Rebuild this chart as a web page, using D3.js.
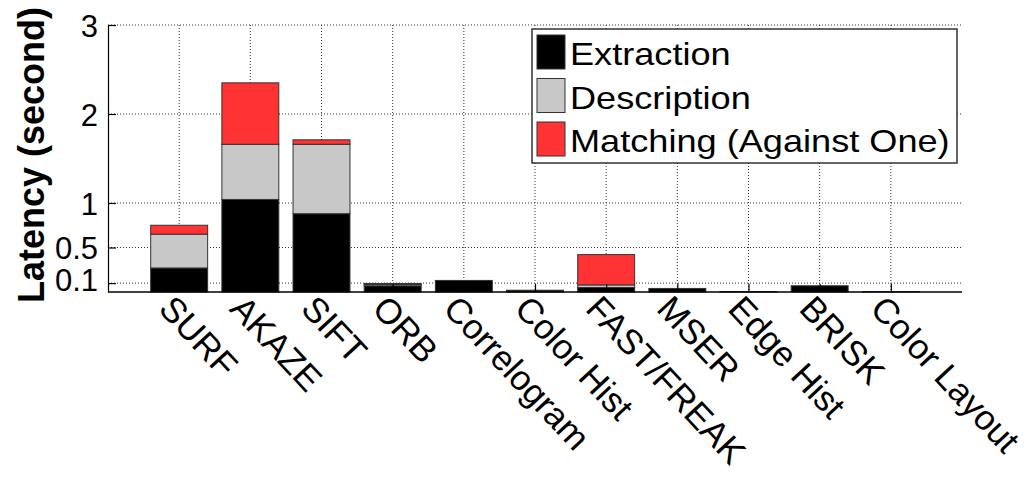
<!DOCTYPE html>
<html>
<head>
<meta charset="utf-8">
<script src="https://cdn.jsdelivr.net/npm/d3@7"></script>
<style>
  body { margin: 0; background: #fff; }
  svg { display: block; font-family: "Liberation Sans", Arial, Helvetica, sans-serif; }
</style>
</head>
<body>
<div id="chart"></div>
<script>
// data (seconds)
const categories = ['SURF', 'AKAZE', 'SIFT', 'ORB', 'Correlogram', 'Color Hist',
    'FAST/FREAK', 'MSER', 'Edge Hist', 'BRISK', 'Color Layout']
const extraction = [0.27, 1.04, 0.88, 0.07, 0.13, 0.02, 0.05, 0.04, 0.005, 0.07, 0.003]
const description = [0.38, 0.62, 0.78, 0.015, 0, 0, 0.03, 0, 0, 0, 0]
const matching = [0.10, 0.69, 0.05, 0.01, 0, 0, 0.34, 0, 0, 0, 0]
const yTicks = [0.1, 0.5, 1, 2, 3]
const seriesNames = ['Extraction', 'Description', 'Matching (Against One)']
const seriesColors = ['#000000', '#c8c8c8', '#ff3333']

const width = 1029
const height = 478
const plot = { left: 108, right: 962, top: 25, bottom: 292 }
const step = (plot.right - plot.left) / (categories.length + 1)
const barWidth = step * 0.8

let x = d3.scalePoint()
    .domain(categories)
    .range([plot.left + step, plot.right - step])
let y = d3.scaleLinear().domain([0, 3]).range([plot.bottom, plot.top])

let svg = d3.select('#chart')
    .append('svg')
    .attr('width', width)
    .attr('height', height)

// dotted grid
svg.append('g')
    .selectAll('line')
    .data(yTicks)
    .enter()
    .append('line')
    .attr('x1', plot.left)
    .attr('x2', plot.right)
    .attr('y1', d => y(d))
    .attr('y2', d => y(d))
    .attr('stroke', '#333')
    .attr('stroke-dasharray', '1,2')
svg.append('g')
    .selectAll('line')
    .data(categories)
    .enter()
    .append('line')
    .attr('x1', d => x(d))
    .attr('x2', d => x(d))
    .attr('y1', plot.top)
    .attr('y2', plot.bottom)
    .attr('stroke', '#333')
    .attr('stroke-dasharray', '1,2')

// stacked bars
let rows = categories.map(function (c, i) {
    return { cat: c, 'Extraction': extraction[i], 'Description': description[i], 'Matching (Against One)': matching[i] }
})
let stacked = d3.stack().keys(seriesNames)(rows)

svg.append('g')
    .selectAll('g')
    .data(stacked)
    .enter()
    .append('g')
    .attr('fill', (d, i) => seriesColors[i])
    .selectAll('rect')
    .data(d => d.filter(s => s[1] - s[0] > 0))
    .enter()
    .append('rect')
    .attr('x', d => x(d.data.cat) - barWidth / 2)
    .attr('y', d => y(d[1]))
    .attr('width', barWidth)
    .attr('height', d => y(d[0]) - y(d[1]))
    .attr('stroke', '#333')
    .attr('stroke-width', 1)

// axes
let yAxis = d3.axisLeft(y).tickValues(yTicks).tickSize(-8).tickSizeOuter(0).tickPadding(10)
    .tickFormat(d3.format('~g'))
let gy = svg.append('g')
    .attr('transform', 'translate(' + plot.left + ',0)')
    .call(yAxis)
gy.selectAll('path, line').attr('stroke', '#000').attr('stroke-width', 1.2)
gy.selectAll('text')
    .attr('font-size', 31)
    .attr('fill', '#000')
    .attr('font-family', null)
    .attr('dy', '0.36em')
// the 0.1 label sits a bit higher in the original so it clears 0.5
gy.selectAll('text').filter(d => d === 0.1).attr('dy', '0.25em')

let xAxis = d3.axisBottom(x).tickSize(-8).tickSizeOuter(0).tickFormat('')
let gx = svg.append('g')
    .attr('transform', 'translate(0,' + plot.bottom + ')')
    .call(xAxis)
gx.select('.domain').remove()
gx.selectAll('line').attr('stroke', '#000').attr('stroke-width', 1.2)
svg.append('line')
    .attr('x1', plot.left)
    .attr('x2', plot.right)
    .attr('y1', plot.bottom)
    .attr('y2', plot.bottom)
    .attr('stroke', '#000')
    .attr('stroke-width', 1.4)

// rotated category labels
svg.append('g')
    .selectAll('text')
    .data(categories)
    .enter()
    .append('text')
    .attr('transform', d => 'translate(' + (x(d) - 22) + ',' + 310 + ') rotate(47)')
    .attr('font-size', 35)
    .attr('fill', '#000')
    .text(d => d)

// y title
svg.append('text')
    .attr('transform', 'translate(44,155) rotate(-90)')
    .attr('text-anchor', 'middle')
    .attr('font-size', 36)
    .attr('font-weight', 'bold')
    .attr('fill', '#000')
    .text('Latency (second)')

// legend
let legend = svg.append('g')
legend.append('rect')
    .attr('x', 532)
    .attr('y', 29)
    .attr('width', 425)
    .attr('height', 134)
    .attr('fill', '#fff')
    .attr('stroke', '#333')
    .attr('stroke-width', 1.5)
let item = legend.selectAll('.item')
    .data(seriesNames)
    .enter()
    .append('g')
    .attr('class', 'item')
    .attr('transform', (d, i) => 'translate(537,' + (35 + i * 43.5) + ')')
item.append('rect')
    .attr('width', 28)
    .attr('height', 34)
    .attr('fill', (d, i) => seriesColors[i])
    .attr('stroke', '#333')
    .attr('stroke-width', 1)
item.append('text')
    .attr('transform', 'translate(33,30) scale(1.13,1)')
    .attr('font-size', 32)
    .attr('fill', '#000')
    .text(d => d)
</script>
</body>
</html>
